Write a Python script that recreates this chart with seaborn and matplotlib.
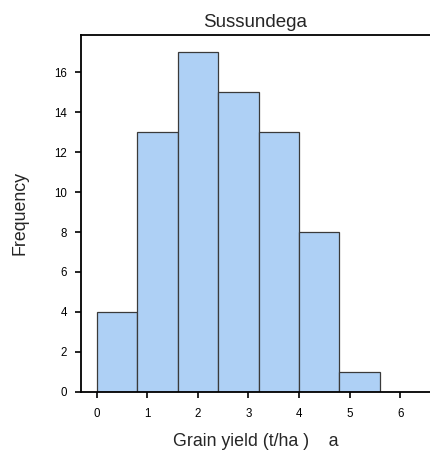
import matplotlib
matplotlib.use("Agg")
import matplotlib.pyplot as plt
import numpy as np
import seaborn as sns

# histogram of grain yield, bins of 0.8 t/ha
bin_mids = [0.4, 1.2, 2.0, 2.8, 3.6, 4.4, 5.2]
counts = [4, 13, 17, 15, 13, 8, 1]
x_ticks = [0, 1, 2, 3, 4, 5, 6]
y_ticks = [0, 2, 4, 6, 8, 10, 12, 14, 16]

sns.set_style("ticks")
plt.rcParams['font.family'] = ['Liberation Sans', 'DejaVu Sans']

fig = plt.figure(figsize=(4.3, 4.54), dpi=100)
ax = fig.add_axes([0.1877, 0.1372, 0.8123, 0.7858])

sns.histplot(x=bin_mids, weights=counts, binwidth=0.8, binrange=(0, 5.6),
             color='#aed0f5', edgecolor='#3a3a3a', linewidth=0.9, alpha=1, ax=ax)

ax.set_xlim(-0.316, 6.59)
ax.set_ylim(0, 17.87)
ax.set_xticks(x_ticks)
ax.set_yticks(y_ticks)
ax.tick_params(axis='both', direction='out', length=4, width=1.2, labelsize=8.3, colors='black')
ax.tick_params(axis='x', pad=8)
ax.tick_params(axis='y', pad=6)

for side in ['left', 'top', 'bottom']:
    ax.spines[side].set_visible(True)
    ax.spines[side].set_linewidth(1.3)
    ax.spines[side].set_color('black')
ax.spines['right'].set_visible(False)

ax.set_title("Sussundega", fontsize=13.5, pad=6)
ax.set_xlabel("Grain yield (t/ha )    a", fontsize=12.8, labelpad=9)
ax.set_ylabel("Frequency", fontsize=12.8, labelpad=18)

fig.savefig("out.png", dpi=100)
